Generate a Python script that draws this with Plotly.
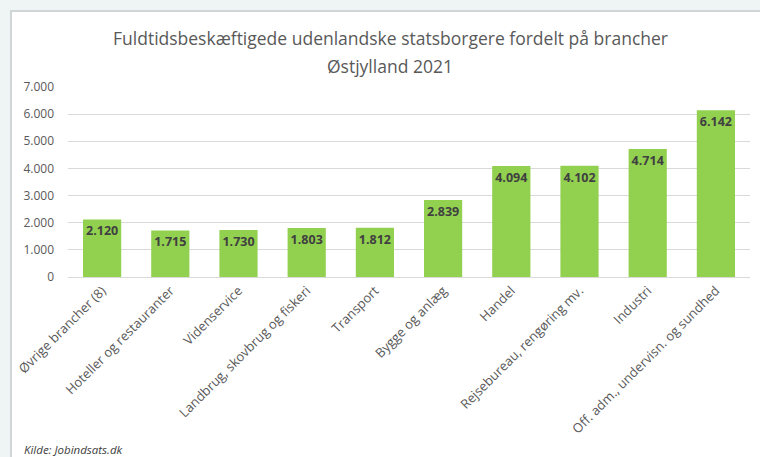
import plotly.graph_objects as go

categories = ["Øvrige brancher (8)", "Hoteller og restauranter", "Videnservice",
              "Landbrug, skovbrug og fiskeri", "Transport", "Bygge og anlæg",
              "Handel", "Rejsebureau, rengøring mv.", "Industri",
              "Off. adm., undervisn. og sundhed"]
values = [2120, 1715, 1730, 1803, 1812, 2839, 4094, 4102, 4714, 6142]
y_ticks = [0, 1000, 2000, 3000, 4000, 5000, 6000, 7000]
title_lines = ["Fuldtidsbeskæftigede udenlandske statsborgere fordelt på brancher",
               "Østjylland 2021"]

FONT = "Open Sans"
L, R, T, B = 68, 10, 87, 180
W, H = 760, 457
pw = W - L - R
ph = H - T - B

def px(x):
    return (x - L) / pw

def py(y):
    return (H - B - y) / ph

fig = go.Figure(go.Bar(
    x=categories, y=values,
    marker=dict(color="#92d050", line=dict(width=0)),
    texttemplate="%{y:,d}", textposition="inside", insidetextanchor="end",
    textfont=dict(family=FONT, size=12.5, color="#404040", weight="bold"),
    textangle=0, constraintext="none",
))

annotations = [
    dict(text=title_lines[0], xref="paper", yref="paper", x=px(390), y=py(38),
         xanchor="center", yanchor="middle", showarrow=False,
         font=dict(family=FONT, size=17.5, color="#595959")),
    dict(text=title_lines[1], xref="paper", yref="paper", x=px(390), y=py(66),
         xanchor="center", yanchor="middle", showarrow=False,
         font=dict(family=FONT, size=17.5, color="#595959")),
    dict(text="<i>Kilde: Jobindsats.dk</i>", xref="paper", yref="paper",
         x=px(22), y=py(449), xanchor="left", yanchor="middle",
         showarrow=False, font=dict(family=FONT, size=11.5, color="#404040")),
]

fig.update_layout(
    width=W, height=H,
    margin=dict(l=L, r=R, t=T, b=B, autoexpand=False),
    paper_bgcolor="#eff5f5", plot_bgcolor="white",
    separators=",.",
    bargap=0.44,
    showlegend=False,
    xaxis=dict(tickangle=-45, tickfont=dict(family=FONT, size=13, color="#595959"),
               showgrid=False, showline=True, linecolor="#d9d9d9", ticks="",
               automargin=False),
    yaxis=dict(range=[0, 7000], tickvals=y_ticks, tickformat=",d",
               tickfont=dict(family=FONT, size=12, color="#595959"),
               gridcolor="#d9d9d9", zeroline=False, ticks="", ticklabelstandoff=13,
               automargin=False),
    shapes=[dict(type="rect", xref="paper", yref="paper", layer="below",
                 x0=px(11), x1=px(775), y0=py(470), y1=py(11),
                 fillcolor="white", line=dict(color="#d0d6d6", width=2))],
    annotations=annotations,
)

fig.write_html("out.html", config={"displayModeBar": False},
               post_script="document.body.style.margin='0';document.body.style.overflow='hidden';")
